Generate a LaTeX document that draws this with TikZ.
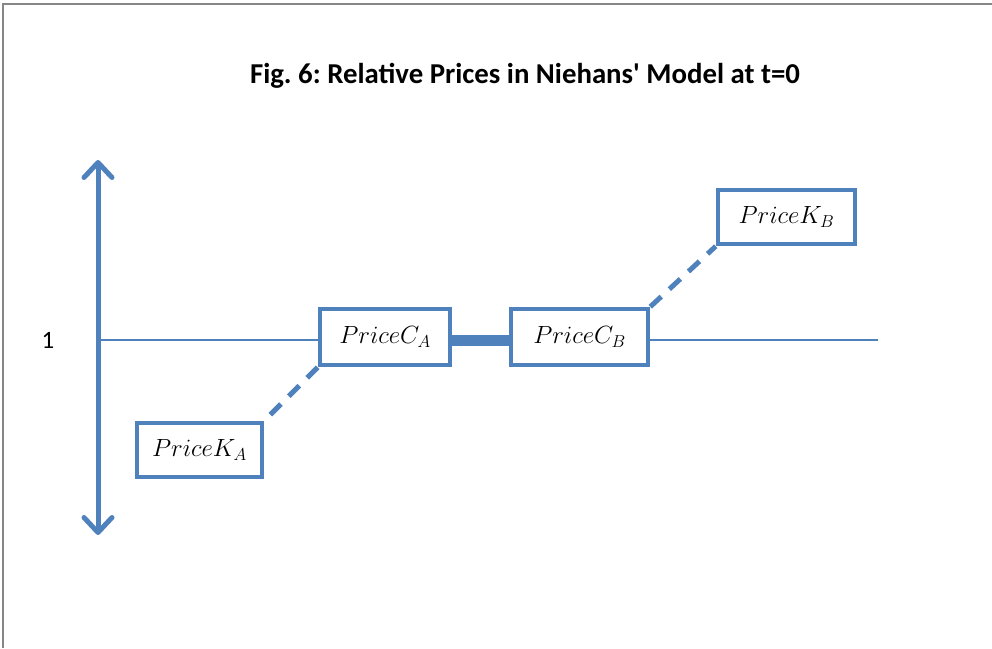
\documentclass[tikz,border=0pt]{standalone}
\usepackage{fontspec}
\setmainfont{Carlito}
\usetikzlibrary{arrows.meta}
\definecolor{ofblue}{HTML}{4F81BD}
\definecolor{framegray}{HTML}{868686}
\frenchspacing
\tikzset{
  pricebox/.style={draw=ofblue, line width=4.5pt, fill=white, inner sep=0pt,
    minimum height=54pt, font=\fontsize{27}{30}\selectfont},
  dashlink/.style={draw=ofblue, line width=5pt, dash pattern=on 15pt off 11pt},
  thinlink/.style={draw=ofblue, line width=2pt},
}
\begin{document}
\begin{tikzpicture}[x=1pt,y=-1pt]
\useasboundingbox (0,0) rectangle (992,648);
\draw[framegray, line width=1.5pt] (992,4) -- (3,4) -- (3,648);
\node[font=\fontsize{28.8}{32}\selectfont\bfseries] (title) at (525,76) {Fig. 6: Relative Prices in Niehans\textquotesingle\ Model at t=0};
\node[font=\fontsize{25}{28}\selectfont] (one) at (48,340) {1};
\coordinate (atop) at (98,160);
\coordinate (abot) at (98,535);
\coordinate (hl) at (98,340);
\coordinate (hr) at (878,340);
\draw[ofblue, line width=5pt, {Straight Barb[length=15pt,width=28pt,round]}-{Straight Barb[length=15pt,width=28pt,round]}] (atop) -- (abot);
\node[pricebox, minimum width=130pt, minimum height=56pt] (CA) at (385,337) {$PriceC_A$};
\node[pricebox, minimum width=137pt, minimum height=56pt] (CB) at (579.5,337) {$PriceC_B$};
\node[pricebox, minimum width=125pt] (KA) at (199.5,450) {$PriceK_A$};
\node[pricebox, minimum width=137pt] (KB) at (786.5,217) {$PriceK_B$};
\draw[thinlink] (hl) -- (CA.west |- hl);
\draw[thinlink] (CB.east |- hr) -- (hr);
\draw[ofblue, line width=11pt] (CA.east |- 0,340.5) -- (CB.west |- 0,340.5);
\draw[dashlink] (CA.south west) -- (KA.north east);
\draw[dashlink] (CB.north east) -- (KB.south west);
\end{tikzpicture}
\end{document}
